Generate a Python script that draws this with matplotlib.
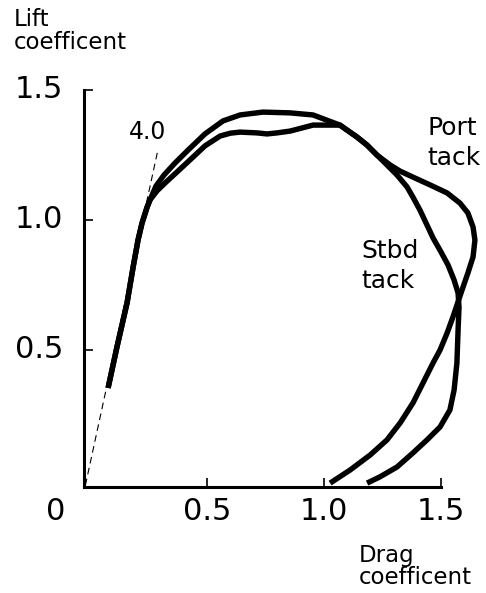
import matplotlib
matplotlib.use("Agg")
import matplotlib.pyplot as plt

plt.rcParams['font.family'] = ['DejaVu Sans']

# Shared low-angle segment (drag, lift)
shared_cd = [0.077, 0.115, 0.158, 0.184, 0.205, 0.222, 0.244, 0.256]
shared_cl = [0.354, 0.512, 0.681, 0.819, 0.923, 0.988, 1.050, 1.077]

# Port tack curve (continuation)
port_cd = [0.282, 0.316, 0.363, 0.419, 0.491, 0.568, 0.641, 0.739, 0.855, 0.953,
           1.068, 1.141, 1.184, 1.226, 1.282, 1.325, 1.380, 1.453, 1.526, 1.581, 1.615,
           1.637, 1.645, 1.637, 1.615, 1.590, 1.551, 1.526, 1.496, 1.466, 1.423,
           1.380, 1.325, 1.269, 1.197, 1.111, 1.026]
port_cl = [1.131, 1.173, 1.219, 1.269, 1.331, 1.381, 1.404, 1.415, 1.412, 1.404,
           1.365, 1.319, 1.288, 1.250, 1.212, 1.188, 1.165, 1.135, 1.104, 1.065, 1.027,
           0.973, 0.923, 0.858, 0.796, 0.731, 0.627, 0.565, 0.500, 0.450, 0.373,
           0.296, 0.219, 0.154, 0.096, 0.038, -0.012]

# Starboard tack curve (continuation)
stbd_cd = [0.286, 0.325, 0.372, 0.427, 0.491, 0.556, 0.600, 0.641, 0.714, 0.756, 0.799,
           0.855, 0.953,
           1.068, 1.141, 1.184, 1.226, 1.261, 1.312, 1.355, 1.380, 1.410, 1.440,
           1.466, 1.500, 1.530, 1.556, 1.573, 1.577, 1.573, 1.568, 1.556, 1.538,
           1.496, 1.440, 1.380, 1.312, 1.239, 1.184]
stbd_cl = [1.112, 1.146, 1.185, 1.231, 1.285, 1.323, 1.334, 1.338, 1.335, 1.331, 1.335,
           1.342, 1.365,
           1.365, 1.319, 1.288, 1.250, 1.219, 1.173, 1.127, 1.088, 1.038, 0.981,
           0.931, 0.877, 0.827, 0.769, 0.719, 0.665, 0.577, 0.450, 0.346, 0.269,
           0.204, 0.154, 0.104, 0.050, 0.012, -0.012]

# Lift slope line
slope_cd = [-0.020, 0.290]
slope_cl = [-0.020, 1.270]

x_ticks = [0.5, 1.0, 1.5]
x_tick_labels = ["0.5", "1.0", "1.5"]
y_ticks = [0.5, 1.0, 1.5]
y_tick_labels = ["0.5", "1.0", "1.5"]

fig = plt.figure(figsize=(4.86, 5.93), dpi=100)
ax = fig.add_axes([84/486, 1-487/593, (441-84)/486, (487-90)/593])
ax.set_xlim(-0.026, 1.5)
ax.set_ylim(-0.027, 1.5)

for s in ['top', 'right']:
    ax.spines[s].set_visible(False)
for s in ['left', 'bottom']:
    ax.spines[s].set_linewidth(2.2)

ax.set_xticks(x_ticks)
ax.set_yticks(y_ticks)
ax.set_xticklabels([])
ax.set_yticklabels([])
ax.tick_params(direction='in', length=6.5, width=1.2)

lw = 3.9
ax.plot(shared_cd + port_cd, shared_cl + port_cl, color='black', lw=lw,
        solid_joinstyle='round', solid_capstyle='butt', clip_on=False)
ax.plot(shared_cd + stbd_cd, shared_cl + stbd_cl, color='black', lw=lw,
        solid_joinstyle='round', solid_capstyle='butt', clip_on=False)
ax.plot(slope_cd, slope_cl, color='black', lw=0.8, ls=(0, (6, 4)), clip_on=False)

def px(x, y, s, **kw):
    fig.text(x/486, 1-y/593, s, **kw)

tick_fs = 22
for v, lab in zip(y_ticks, y_tick_labels):
    yp = 480 - v*260
    px(63, yp, lab, ha='right', va='center', fontsize=tick_fs)
for v, lab in zip(x_ticks, x_tick_labels):
    xp = 90 + v*234
    px(xp, 511, lab, ha='center', va='center', fontsize=tick_fs)
px(56, 511, "0", ha='center', va='center', fontsize=tick_fs)

lab_fs = 16.5
px(14, 26, "Lift", ha='left', va='baseline', fontsize=lab_fs)
px(14, 49, "coefficent", ha='left', va='baseline', fontsize=lab_fs)
px(359, 562, "Drag", ha='left', va='baseline', fontsize=lab_fs)
px(359, 584, "coefficent", ha='left', va='baseline', fontsize=lab_fs)
px(148, 132, "4.0", ha='center', va='center', fontsize=17)
px(427, 135, "Port", ha='left', va='baseline', fontsize=18)
px(427, 165, "tack", ha='left', va='baseline', fontsize=18)
px(361, 258, "Stbd", ha='left', va='baseline', fontsize=18)
px(361, 288, "tack", ha='left', va='baseline', fontsize=18)

fig.savefig("out.png", dpi=100)
